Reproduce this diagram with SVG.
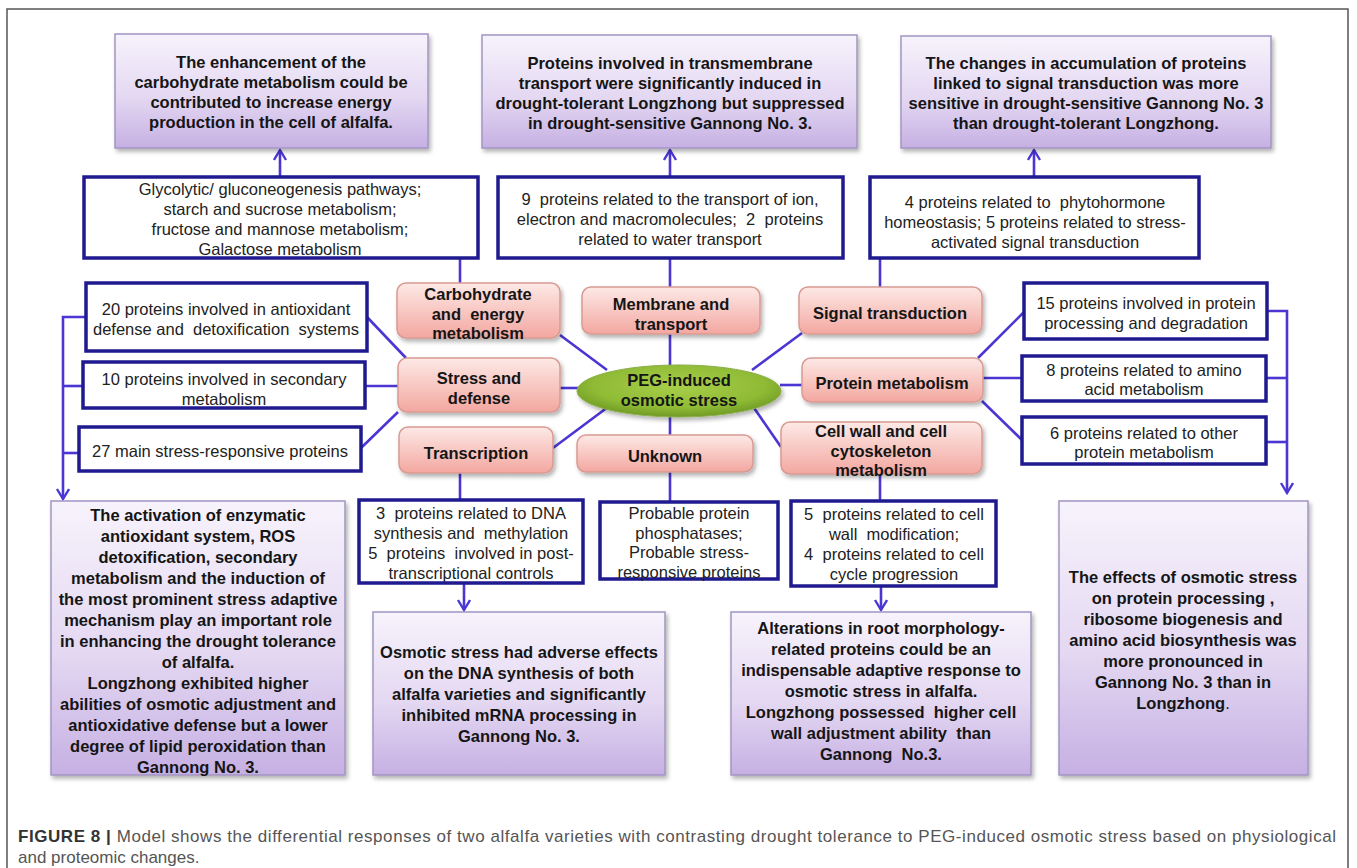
<svg xmlns="http://www.w3.org/2000/svg" width="1357" height="868" viewBox="0 0 1357 868" xml:space="preserve">
<defs>
<linearGradient id="gPurple" x1="0" y1="0" x2="0" y2="1"><stop offset="0" stop-color="#f7f3fc"/><stop offset="0.55" stop-color="#e4d8f2"/><stop offset="1" stop-color="#c6b0e3"/></linearGradient>
<linearGradient id="gPink" x1="0" y1="0" x2="0" y2="1"><stop offset="0" stop-color="#fde9e6"/><stop offset="1" stop-color="#f3a7a0"/></linearGradient>
<radialGradient id="gGreen" cx="0.5" cy="0.4" r="0.6"><stop offset="0" stop-color="#a9cf4a"/><stop offset="0.7" stop-color="#8fbb35"/><stop offset="1" stop-color="#6f9a25"/></radialGradient>
<filter id="sh" x="-10%" y="-10%" width="125%" height="130%"><feDropShadow dx="2" dy="3" stdDeviation="2" flood-color="#000" flood-opacity="0.3"/></filter>
<marker id="arr" markerWidth="16" markerHeight="16" refX="12" refY="7" orient="auto" markerUnits="userSpaceOnUse"><path d="M2,1 L12,7 L2,13" fill="none" stroke="#4b36d4" stroke-width="2.4"/></marker>
<style>
.pb{fill:url(#gPurple);stroke:#a295c2;stroke-width:1.5;filter:url(#sh)}
.pk{fill:url(#gPink);stroke:#d99a93;stroke-width:1.5;filter:url(#sh)}
.wb{fill:#fff;stroke:#1f1a8f;stroke-width:3.5}
.tb{font-family:"Liberation Sans",Arial,sans-serif;font-size:16.5px;font-weight:bold;fill:#151515;text-anchor:middle;white-space:pre}
.tr{font-family:"Liberation Sans",Arial,sans-serif;font-size:16.5px;fill:#222;text-anchor:middle;white-space:pre}
.cn{stroke:#4b36d4;stroke-width:2.6;fill:none}
.cap{font-family:"Liberation Sans",Arial,sans-serif;font-size:17px;fill:#555}
</style>
</defs>
<rect x="0" y="0" width="1357" height="868" fill="#fff"/>
<rect x="7" y="9" width="1341" height="900" fill="none" stroke="#555" stroke-width="1.5"/>

<g id="connectors">
<path class="cn" d="M280,177 V150" marker-end="url(#arr)"/>
<path class="cn" d="M670,177 V150" marker-end="url(#arr)"/>
<path class="cn" d="M1034,177 V150" marker-end="url(#arr)"/>
<path class="cn" d="M460,258 V283"/>
<path class="cn" d="M670,258 V287"/>
<path class="cn" d="M880,258 V287"/>
<path class="cn" d="M560,335 L607,370"/>
<path class="cn" d="M560,388 H578"/>
<path class="cn" d="M553,448 L608,407"/>
<path class="cn" d="M670,334 V366"/>
<path class="cn" d="M670,416 V435"/>
<path class="cn" d="M802,333 L752,370"/>
<path class="cn" d="M780,385 H802"/>
<path class="cn" d="M752,405 L781,447"/>
<path class="cn" d="M367,317 L406,358"/>
<path class="cn" d="M365,386 H398"/>
<path class="cn" d="M361,448 L398,412"/>
<path class="cn" d="M86,317 H63 V499" marker-end="url(#arr)"/>
<path class="cn" d="M83,386 H63"/>
<path class="cn" d="M79,453 H63"/>
<path class="cn" d="M978,358 L1024,312"/>
<path class="cn" d="M983,378 H1022"/>
<path class="cn" d="M982,401 L1022,440"/>
<path class="cn" d="M1267,311 H1287 V493" marker-end="url(#arr)"/>
<path class="cn" d="M1266,378 H1287"/>
<path class="cn" d="M1266,442 H1287"/>
<path class="cn" d="M460,473 V500"/>
<path class="cn" d="M464,583 V610" marker-end="url(#arr)"/>
<path class="cn" d="M670,472 V502"/>
<path class="cn" d="M880,474 V501"/>
<path class="cn" d="M881,586 V610" marker-end="url(#arr)"/>
</g>

<g id="top-carb-conclusion">
<rect class="pb" x="115" y="34" width="313" height="114"/>
<text class="tb" x="271" y="68">The enhancement of the</text>
<text class="tb" x="271" y="88">carbohydrate metabolism could be</text>
<text class="tb" x="271" y="108">contributed to increase energy</text>
<text class="tb" x="271" y="128">production in the cell of alfalfa.</text>
</g>
<g id="top-membrane-conclusion">
<rect class="pb" x="482" y="35" width="375" height="113"/>
<text class="tb" x="670" y="69">Proteins involved in transmembrane</text>
<text class="tb" x="670" y="89">transport were significantly induced in</text>
<text class="tb" x="670" y="109">drought-tolerant Longzhong but suppressed</text>
<text class="tb" x="670" y="129">in drought-sensitive Gannong No. 3.</text>
</g>
<g id="top-signal-conclusion">
<rect class="pb" x="901" y="36" width="370" height="112"/>
<text class="tb" x="1086" y="69">The changes in accumulation of proteins</text>
<text class="tb" x="1086" y="89">linked to signal transduction was more</text>
<text class="tb" x="1086" y="109">sensitive in drought-sensitive Gannong No. 3</text>
<text class="tb" x="1086" y="129">than drought-tolerant Longzhong.</text>
</g>

<g id="carb-detail">
<rect class="wb" x="84" y="177" width="394" height="81"/>
<text class="tr" x="280" y="195">Glycolytic/ gluconeogenesis pathways;</text>
<text class="tr" x="280" y="215">starch and sucrose metabolism;</text>
<text class="tr" x="280" y="235">fructose and mannose metabolism;</text>
<text class="tr" x="280" y="255">Galactose metabolism</text>
</g>
<g id="membrane-detail">
<rect class="wb" x="498" y="177" width="345" height="81"/>
<text class="tr" x="670" y="205">9  proteins related to the transport of ion,</text>
<text class="tr" x="670" y="225">electron and macromolecules;  2  proteins</text>
<text class="tr" x="670" y="245">related to water transport</text>
</g>
<g id="signal-detail">
<rect class="wb" x="870" y="177" width="329" height="81"/>
<text class="tr" x="1035" y="208">4 proteins related to  phytohormone</text>
<text class="tr" x="1035" y="228">homeostasis; 5 proteins related to stress-</text>
<text class="tr" x="1035" y="248">activated signal transduction</text>
</g>

<g id="node-carb">
<rect class="pk" x="397" y="283" width="163" height="55" rx="9"/>
<text class="tb" x="478" y="300">Carbohydrate</text>
<text class="tb" x="478" y="320">and  energy</text>
<text class="tb" x="478" y="339">metabolism</text>
</g>
<g id="node-membrane">
<rect class="pk" x="582" y="287" width="178" height="47" rx="9"/>
<text class="tb" x="671" y="310">Membrane and</text>
<text class="tb" x="671" y="330">transport</text>
</g>
<g id="node-signal">
<rect class="pk" x="799" y="287" width="183" height="47" rx="9"/>
<text class="tb" x="890" y="319">Signal transduction</text>
</g>
<g id="node-stress">
<rect class="pk" x="398" y="358" width="162" height="54" rx="9"/>
<text class="tb" x="479" y="384">Stress and</text>
<text class="tb" x="479" y="404">defense</text>
</g>
<g id="node-peg">
<ellipse cx="679" cy="391" rx="102" ry="26" fill="url(#gGreen)" stroke="#8cae4a" stroke-width="1" filter="url(#sh)"/>
<text class="tb" x="679" y="386">PEG-induced</text>
<text class="tb" x="679" y="406">osmotic stress</text>
</g>
<g id="node-protein">
<rect class="pk" x="802" y="358" width="181" height="44" rx="9"/>
<text class="tb" x="892" y="389">Protein metabolism</text>
</g>
<g id="node-transcription">
<rect class="pk" x="399" y="427" width="154" height="46" rx="9"/>
<text class="tb" x="476" y="459">Transcription</text>
</g>
<g id="node-unknown">
<rect class="pk" x="577" y="435" width="176" height="37" rx="9"/>
<text class="tb" x="665" y="462">Unknown</text>
</g>
<g id="node-cellwall">
<rect class="pk" x="781" y="422" width="201" height="52" rx="9"/>
<text class="tb" x="881" y="437">Cell wall and cell</text>
<text class="tb" x="881" y="457">cytoskeleton</text>
<text class="tb" x="881" y="476">metabolism</text>
</g>

<g id="stress-antioxidant">
<rect class="wb" x="86" y="283" width="281" height="68"/>
<text class="tr" x="226" y="315">20 proteins involved in antioxidant</text>
<text class="tr" x="226" y="335">defense and  detoxification  systems</text>
</g>
<g id="stress-secondary">
<rect class="wb" x="83" y="362" width="282" height="46"/>
<text class="tr" x="224" y="385">10 proteins involved in secondary</text>
<text class="tr" x="224" y="405">metabolism</text>
</g>
<g id="stress-main">
<rect class="wb" x="79" y="427" width="282" height="44"/>
<text class="tr" x="220" y="457">27 main stress-responsive proteins</text>
</g>

<g id="protein-processing">
<rect class="wb" x="1024" y="283" width="243" height="56"/>
<text class="tr" x="1146" y="309">15 proteins involved in protein</text>
<text class="tr" x="1146" y="329">processing and degradation</text>
</g>
<g id="protein-amino">
<rect class="wb" x="1022" y="356" width="244" height="45"/>
<text class="tr" x="1144" y="376">8 proteins related to amino</text>
<text class="tr" x="1144" y="395">acid metabolism</text>
</g>
<g id="protein-other">
<rect class="wb" x="1022" y="417" width="244" height="47"/>
<text class="tr" x="1144" y="439">6 proteins related to other</text>
<text class="tr" x="1144" y="458">protein metabolism</text>
</g>

<g id="stress-conclusion">
<rect class="pb" x="51" y="501" width="294" height="274"/>
<text class="tb" x="198" y="521">The activation of enzymatic</text>
<text class="tb" x="198" y="542">antioxidant system, ROS</text>
<text class="tb" x="198" y="563">detoxification, secondary</text>
<text class="tb" x="198" y="584">metabolism and the induction of</text>
<text class="tb" x="198" y="605">the most prominent stress adaptive</text>
<text class="tb" x="198" y="626">mechanism play an important role</text>
<text class="tb" x="198" y="647">in enhancing the drought tolerance</text>
<text class="tb" x="198" y="668">of alfalfa.</text>
<text class="tb" x="198" y="689">Longzhong exhibited higher</text>
<text class="tb" x="198" y="710">abilities of osmotic adjustment and</text>
<text class="tb" x="198" y="731">antioxidative defense but a lower</text>
<text class="tb" x="198" y="752">degree of lipid peroxidation than</text>
<text class="tb" x="198" y="773">Gannong No. 3.</text>
</g>
<g id="transcription-detail">
<rect class="wb" x="359" y="500" width="224" height="83"/>
<text class="tr" x="471" y="519">3  proteins related to DNA</text>
<text class="tr" x="471" y="539">synthesis and  methylation</text>
<text class="tr" x="471" y="559">5  proteins  involved in post-</text>
<text class="tr" x="471" y="579">transcriptional controls</text>
</g>
<g id="unknown-detail">
<rect class="wb" x="600" y="502" width="178" height="77"/>
<text class="tr" x="689" y="519">Probable protein</text>
<text class="tr" x="689" y="539">phosphatases;</text>
<text class="tr" x="689" y="558">Probable stress-</text>
<text class="tr" x="689" y="578">responsive proteins</text>
</g>
<g id="cellwall-detail">
<rect class="wb" x="791" y="501" width="205" height="85"/>
<text class="tr" x="894" y="520">5  proteins related to cell</text>
<text class="tr" x="894" y="540">wall  modification;</text>
<text class="tr" x="894" y="560">4  proteins related to cell</text>
<text class="tr" x="894" y="580">cycle progression</text>
</g>
<g id="transcription-conclusion">
<rect class="pb" x="373" y="612" width="292" height="163"/>
<text class="tb" x="519" y="658">Osmotic stress had adverse effects</text>
<text class="tb" x="519" y="679">on the DNA synthesis of both</text>
<text class="tb" x="519" y="700">alfalfa varieties and significantly</text>
<text class="tb" x="519" y="721">inhibited mRNA processing in</text>
<text class="tb" x="519" y="742">Gannong No. 3.</text>
</g>
<g id="cellwall-conclusion">
<rect class="pb" x="731" y="612" width="300" height="163"/>
<text class="tb" x="881" y="634">Alterations in root morphology-</text>
<text class="tb" x="881" y="655">related proteins could be an</text>
<text class="tb" x="881" y="676">indispensable adaptive response to</text>
<text class="tb" x="881" y="697">osmotic stress in alfalfa.</text>
<text class="tb" x="881" y="718">Longzhong possessed  higher cell</text>
<text class="tb" x="881" y="739">wall adjustment ability  than</text>
<text class="tb" x="881" y="760">Gannong  No.3.</text>
</g>
<g id="protein-conclusion">
<rect class="pb" x="1059" y="501" width="249" height="274"/>
<text class="tb" x="1183" y="583">The effects of osmotic stress</text>
<text class="tb" x="1183" y="604">on protein processing ,</text>
<text class="tb" x="1183" y="625">ribosome biogenesis and</text>
<text class="tb" x="1183" y="646">amino acid biosynthesis was</text>
<text class="tb" x="1183" y="667">more pronounced in</text>
<text class="tb" x="1183" y="688">Gannong No. 3 than in</text>
<text class="tb" x="1183" y="709">Longzhong<tspan font-weight="normal">.</tspan></text>
</g>

<g id="caption">
<text class="cap" x="18" y="842" textLength="1318" lengthAdjust="spacing"><tspan font-weight="bold" fill="#333">FIGURE 8 | </tspan>Model shows the differential responses of two alfalfa varieties with contrasting drought tolerance to PEG-induced osmotic stress based on physiological</text>
<text class="cap" x="18" y="863">and proteomic changes.</text>
</g>
</svg>
